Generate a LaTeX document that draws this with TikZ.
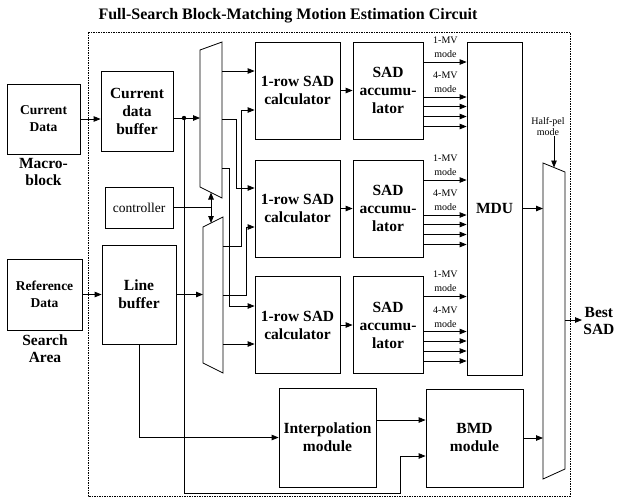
\documentclass[tikz,border=0pt]{standalone}
\usepackage{fontspec}
\setmainfont{Liberation Serif}
\usetikzlibrary{calc,arrows.meta}

\begin{document}
\begin{tikzpicture}[x=1pt, y=-1pt, line width=0.8pt,
  >={Triangle[length=7pt,width=5.5pt]},
  blk/.style={draw, align=center, inner sep=1pt, font=\bfseries\fontsize{15.5}{18}\selectfont},
  iobox/.style={draw, align=center, inner sep=1pt, font=\bfseries\fontsize{13.5}{17}\selectfont},
  sidelabel/.style={align=center, inner sep=1pt, font=\bfseries\fontsize{15.5}{17}\selectfont},
  modelabel/.style={align=center, inner sep=0pt, font=\fontsize{10}{14}\selectfont}]

\useasboundingbox (0,0) rectangle (617,499);

% title and frame
\node[font=\bfseries\fontsize{16}{18}\selectfont] (title) at (288,16) {Full-Search Block-Matching Motion Estimation Circuit};
\draw[line width=0.5pt, dash pattern=on 1.5pt off 1pt] (88,32) rectangle (570,496);

% inputs
\node[iobox, minimum width=73pt, minimum height=70pt] (curdata) at (43.5,119) {Current\\Data};
\node[sidelabel] (macro) at (43.5,172) {Macro-\\block};
\node[iobox, minimum width=75pt, minimum height=71pt] (refdata) at (44.5,294.5) {Reference\\Data};
\node[sidelabel] (search) at (45,349) {Search\\Area};

% buffers and controller
\node[blk, minimum width=72pt, minimum height=80pt] (curbuf) at (137,111) {Current\\data\\buffer};
\node[draw, inner sep=1pt, font=\fontsize{13.5}{15}\selectfont, minimum width=68pt, minimum height=41pt] (ctrl) at (139,207.5) {controller};
\node[blk, minimum width=74pt, minimum height=99pt] (linebuf) at (139,294.5) {Line\\buffer};

% SAD rows
\foreach \r/\y in {1/90.5, 2/208.5, 3/325} {
  \node[blk, minimum width=85pt, minimum height=97pt] (calc\r) at (297.5,\y) {1-row SAD\\calculator};
  \node[blk, minimum width=70pt, minimum height=97pt] (acc\r) at (388,\y) {SAD\\accumu-\\lator};
}
\node[blk, minimum width=55pt, minimum height=333pt] (mdu) at (494.5,208.5) {MDU};
\node[blk, minimum width=97pt, minimum height=99pt] (interp) at (327.5,437.5) {Interpolation\\module};
\node[blk, minimum width=97pt, minimum height=98pt] (bmd) at (474.5,438) {BMD\\module};

% multiplexers
\draw (200,50) -- (222,42) -- (222,198) -- (200,187) -- cycle;
\draw (203,227) -- (223,217) -- (223,373) -- (203,363) -- cycle;
\draw (543,163) -- (565,172) -- (565,469) -- (543,479) -- cycle;

\coordinate (m1in) at (200,118);
\coordinate (m2in) at (203,294.5);
\coordinate (m3in) at (543,0);
\coordinate (m3out) at (565,320);
\coordinate (m1o1) at (222,71);
\coordinate (m1o2) at (222,119);
\coordinate (m1o3) at (222,168);
\coordinate (m2o1) at (223,246);
\coordinate (m2o2) at (223,295);
\coordinate (m2o3) at (223,344);
\coordinate (dot) at (184,118);
\coordinate (bot) at (400,493);
\coordinate (sel) at (211,207.5);
\coordinate (s1) at (211,192.5);
\coordinate (s2) at (211,223);
\coordinate (hp) at (554,167.5);

% input connections
\draw[->] (curdata.east) -- (curdata.east -| curbuf.west);
\draw[->] (refdata.east) -- (refdata.east -| linebuf.west);
\draw (curbuf.east |- dot) -- (dot);
\fill (dot) circle (2.2pt);
\draw[->] (dot) -- (m1in);
\draw[->] (dot) |- (bot) |- ($(bmd.west)+(0,18)$);
\draw[->] (linebuf.east) -- (linebuf.east -| m2in);
\draw[->] (linebuf.south) |- (interp.west);
\draw (ctrl.east) -- (sel);
\draw[<->] (s1) -- (s2);

% mux to calculators
\draw[->] (m1o1) -- (m1o1 -| calc1.west);
\draw[->] (m1o2) -| ($(calc2.west)+(-18,-20.5)$) -- ($(calc2.west)+(0,-20.5)$);
\draw[->] (m1o3) -| ($(calc3.west)+(-25,-19)$) -- ($(calc3.west)+(0,-19)$);
\draw[->] (m2o1) -| ($(calc1.west)+(-13,19.5)$) -- ($(calc1.west)+(0,19.5)$);
\draw[->] (m2o2) -| ($(calc2.west)+(-8,18.5)$) -- ($(calc2.west)+(0,18.5)$);
\draw[->] (m2o3) -- (m2o3 -| calc3.west);

% accumulators to MDU
\foreach \r in {1,2,3} {
  \draw[->] (calc\r.east) -- (acc\r.west);
  \node[modelabel] at ($(acc\r.east)+(22,-43.5)$) {1-MV\\mode};
  \node[modelabel] at ($(acc\r.east)+(22,-8)$) {4-MV\\mode};
  \foreach \dy in {-28.5,6.5,16,26,36} {
    \path ($(acc\r.east)+(0,\dy)$) coordinate (p);
    \draw[->] (p) -- (p -| mdu.west);
  }
}

% half-pel path and output
\draw[->] ($(interp.east)+(0,-17.5)$) -- ($(interp.east -| bmd.west)+(0,-17.5)$);
\draw[->] (bmd.east) -- (bmd.east -| m3in);
\draw[->] (mdu.east) -- (mdu.east -| m3in);
\node[modelabel, font=\fontsize{10}{11}\selectfont] (halfpel) at (548,127) {Half-pel\\mode};
\draw[->] (hp |- halfpel.south) -- (hp);
\node[sidelabel, anchor=west] (best) at (582,321) {Best\\SAD};
\draw[->] (m3out) -- (m3out -| best.west);

\end{tikzpicture}
\end{document}
